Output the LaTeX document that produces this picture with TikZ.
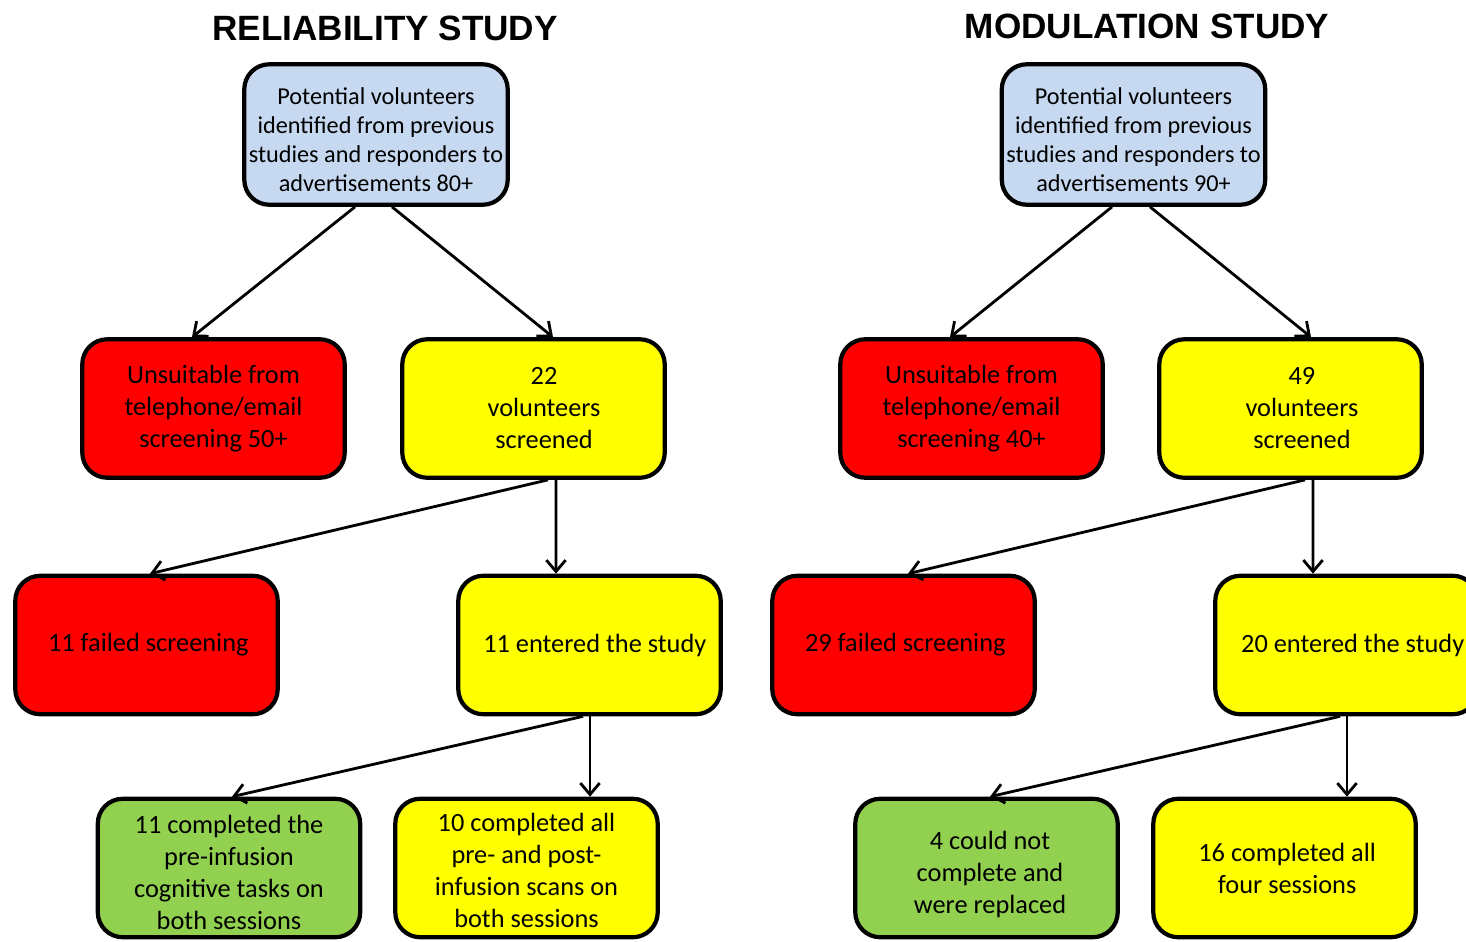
\documentclass[tikz,border=0pt]{standalone}
\usepackage{fontspec}
\setmainfont{Carlito}
\newfontfamily\titlefont{Liberation Sans}
\usetikzlibrary{calc,arrows.meta}
\definecolor{boxblue}{RGB}{198,217,241}
\definecolor{boxred}{RGB}{255,0,0}
\definecolor{boxyellow}{RGB}{255,255,0}
\definecolor{boxgreen}{RGB}{146,208,80}
% small shifts of the text inside a box
\newcommand{\nudge}[1]{\hspace*{#1}}
\newcommand{\dropline}[1]{\rule{0pt}{#1}}
\begin{document}
\begin{tikzpicture}[x=0.02cm,y=-0.02cm,
	box/.style={draw=black,line width=2.4pt,rounded corners=0.5cm,align=center,
		minimum width=5.25cm,minimum height=2.77cm,inner sep=0pt,
		font=\fontsize{15}{18.2}\selectfont},
	topbox/.style={box,fill=boxblue,minimum width=5.27cm,minimum height=2.81cm,
		font=\fontsize{13.8}{16.6}\selectfont},
	redbox/.style={box,fill=boxred},
	yelbox/.style={box,fill=boxyellow},
	grnbox/.style={box,fill=boxgreen},
	heading/.style={font=\titlefont\bfseries\fontsize{20}{24}\selectfont,anchor=base},
	arr/.style={line width=1.6pt,-{Straight Barb[length=6.5pt,width=11pt]}}]
	\clip (0,0) rectangle (1466,941);
	\useasboundingbox (0,0) rectangle (1466,941);
	% reliability study
	\node[heading] (titleL) at (385,40) {RELIABILITY STUDY};
	\node[topbox] (topL) at (376,134.5) {\dropline{15.7pt}Potential volunteers\\ identified from previous\\ studies and responders to\\ advertisements 80+};
	\node[redbox] (unsuitL) at (213.5,408.5) {Unsuitable from\\ telephone/email\\ screening 50+};
	\node[yelbox] (screenL) at (533.5,408.5) {\nudge{12pt}22\\ \nudge{12pt}volunteers\\ \nudge{12pt}screened};
	\node[redbox] (failL) at (146.5,645) {\nudge{2pt}11 failed screening};
	\node[yelbox] (enterL) at (589.5,645) {\nudge{6pt}11 entered the study};
	\node[grnbox] (cogL) at (229,868) {\dropline{15.3pt}11 completed the\\ pre-infusion\\ cognitive tasks on\\ both sessions};
	\node[yelbox] (scanL) at (526.5,868) {\dropline{13.5pt}10 completed all\\ pre- and post-\\ infusion scans on\\ both sessions};
	\draw[arr] ($(topL.south)+(-21,0)$) -- ($(unsuitL.north)+(-21.5,0)$);
	\draw[arr] ($(topL.south)+(16,0)$) -- ($(screenL.north)+(19.5,0)$);
	\draw[arr] ($(screenL.south)+(14.5,0)$) -- ($(failL.north)+(3.5,0)$);
	\draw[arr] ($(screenL.south)+(22.5,0)$) -- ($(enterL.north)+(-33.5,0)$);
	\draw[arr] ($(enterL.south)+(-6.5,0)$) -- ($(cogL.north)+(3,0)$);
	\draw[arr] ($(enterL.south)+(0.5,0)$) -- ($(scanL.north)+(63.5,0)$);
	% modulation study
	\node[heading] (titleR) at (1147,38) {MODULATION STUDY};
	\node[topbox] (topR) at (1133.5,134.5) {\dropline{15.7pt}Potential volunteers\\ identified from previous\\ studies and responders to\\ advertisements 90+};
	\node[redbox] (unsuitR) at (971.5,408.5) {Unsuitable from\\ telephone/email\\ screening 40+};
	\node[yelbox] (screenR) at (1290.5,408.5) {\nudge{13pt}49\\ \nudge{13pt}volunteers\\ \nudge{13pt}screened};
	\node[redbox] (failR) at (903.5,645) {\nudge{2pt}29 failed screening};
	\node[yelbox] (enterR) at (1346.5,645) {\nudge{7pt}20 entered the study};
	\node[grnbox] (replR) at (986.5,868) {\dropline{17.6pt}\nudge{4pt}4 could not\\ \nudge{4pt}complete and\\ \nudge{4pt}were replaced};
	\node[yelbox] (fourR) at (1284.5,868) {\nudge{3pt}16 completed all\\ \nudge{3pt}four sessions};
	\draw[arr] ($(topR.south)+(-21.5,0)$) -- ($(unsuitR.north)+(-21.5,0)$);
	\draw[arr] ($(topR.south)+(16.5,0)$) -- ($(screenR.north)+(20.5,0)$);
	\draw[arr] ($(screenR.south)+(14.5,0)$) -- ($(failR.north)+(4.5,0)$);
	\draw[arr] ($(screenR.south)+(22.5,0)$) -- ($(enterR.north)+(-33.5,0)$);
	\draw[arr] ($(enterR.south)+(-6.5,0)$) -- ($(replR.north)+(3.5,0)$);
	\draw[arr] ($(enterR.south)+(0.5,0)$) -- ($(fourR.north)+(62.5,0)$);
\end{tikzpicture}
\end{document}
